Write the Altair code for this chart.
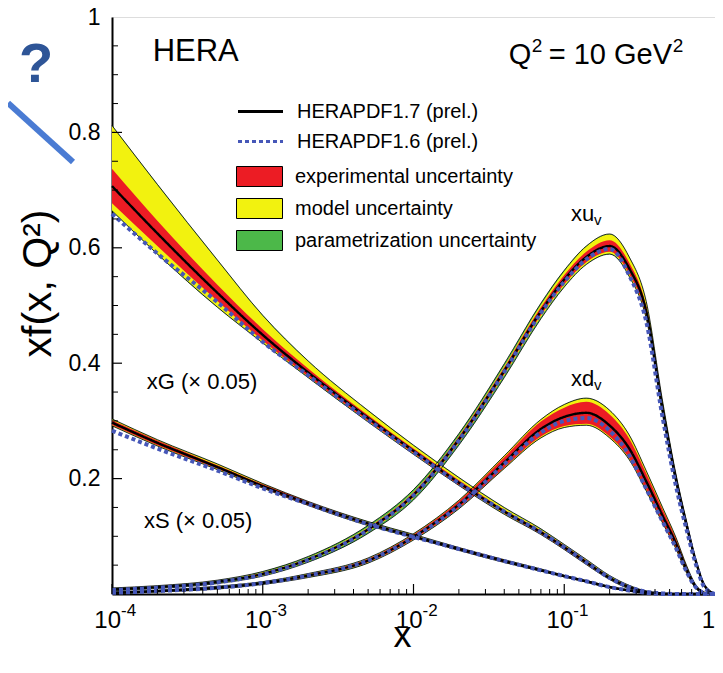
import altair as alt
import pandas as pd

FONT = "Liberation Sans"
RED, YELLOW, GREEN, BLUE = "#ec1c24", "#f2f20f", "#4cb849", "#4657b8"

# ---------------- data ----------------
X = [1e-4, 2e-4, 5e-4, 1e-3, 2e-3, 5e-3, 1e-2, 2e-2, 4e-2, 7e-2, 0.1,
     0.14, 0.2, 0.27, 0.35, 0.45, 0.55, 0.65, 0.75, 0.85, 1.0]

# xG (x 0.05)
G17 = [0.707, 0.625, 0.522, 0.449, 0.384, 0.305, 0.248, 0.193, 0.143, 0.107, 0.081,
       0.055, 0.028, 0.012, 0.004, 0.001, 0, 0, 0, 0, 0]
G16 = [0.659, 0.590, 0.506, 0.437, 0.379, 0.302, 0.246, 0.192, 0.143, 0.107, 0.081,
       0.055, 0.028, 0.012, 0.004, 0.001, 0, 0, 0, 0, 0]
G_EXP = [0.030, 0.022, 0.014, 0.010, 0.007, 0.005, 0.004, 0.004, 0.003, 0.003, 0.003,
         0.003, 0.002, 0.002, 0.001, 0, 0, 0, 0, 0, 0]
G_MUP = [0.104, 0.084, 0.056, 0.033, 0.019, 0.012, 0.009, 0.008, 0.006, 0.005, 0.004,
         0.004, 0.003, 0.002, 0.001, 0, 0, 0, 0, 0, 0]
G_MDN = [0.042, 0.035, 0.024, 0.013, 0.008, 0.006, 0.005, 0.004, 0.004, 0.003, 0.003,
         0.003, 0.002, 0.002, 0.001, 0, 0, 0, 0, 0, 0]
G_PAR = [0.001, 0.001, 0.001, 0.001, 0.001, 0.001, 0.001, 0.001, 0.001, 0.001, 0.001,
         0.001, 0.001, 0.001, 0, 0, 0, 0, 0, 0, 0]

# xS (x 0.05)
S17 = [0.297, 0.262, 0.220, 0.187, 0.157, 0.122, 0.100, 0.078, 0.057, 0.041, 0.031,
       0.022, 0.012, 0.006, 0.002, 0, 0, 0, 0, 0, 0]
S16 = [0.283, 0.252, 0.214, 0.183, 0.156, 0.121, 0.099, 0.078, 0.057, 0.041, 0.031,
       0.022, 0.012, 0.006, 0.002, 0, 0, 0, 0, 0, 0]
S_EXP = [0.004, 0.004, 0.003, 0.003, 0.003, 0.002, 0.002, 0.002, 0.002, 0.001, 0.001,
         0.001, 0.001, 0.001, 0, 0, 0, 0, 0, 0, 0]
S_MUP = [0.006, 0.005, 0.005, 0.004, 0.003, 0.003, 0.003, 0.002, 0.002, 0.002, 0.001,
         0.001, 0.001, 0.001, 0, 0, 0, 0, 0, 0, 0]
S_MDN = [0.005, 0.005, 0.004, 0.003, 0.003, 0.003, 0.002, 0.002, 0.002, 0.001, 0.001,
         0.001, 0.001, 0.001, 0, 0, 0, 0, 0, 0, 0]
S_PAR = [0.0005] * 13 + [0] * 8

# xu_v
U17 = [0.008, 0.012, 0.021, 0.035, 0.060, 0.112, 0.172, 0.268, 0.387, 0.490, 0.545,
       0.584, 0.603, 0.564, 0.490, 0.320, 0.200, 0.118, 0.055, 0.015, 0.0]
U16 = [0.007, 0.011, 0.020, 0.034, 0.059, 0.111, 0.171, 0.266, 0.385, 0.487, 0.541,
       0.580, 0.598, 0.552, 0.472, 0.305, 0.188, 0.110, 0.050, 0.012, 0.0]
U_EXP = [0.001, 0.001, 0.001, 0.002, 0.002, 0.003, 0.004, 0.005, 0.006, 0.007, 0.008,
         0.009, 0.010, 0.010, 0.009, 0.007, 0.005, 0.004, 0.002, 0.001, 0]
U_MUP = [0.002, 0.002, 0.002, 0.003, 0.003, 0.004, 0.005, 0.006, 0.008, 0.011, 0.014,
         0.018, 0.020, 0.019, 0.016, 0.012, 0.008, 0.006, 0.003, 0.002, 0]
U_MDN = [0.002, 0.002, 0.002, 0.003, 0.003, 0.004, 0.005, 0.006, 0.008, 0.010, 0.011,
         0.012, 0.013, 0.013, 0.012, 0.010, 0.007, 0.005, 0.003, 0.001, 0]
U_PAR = [0.0005, 0.0005, 0.001, 0.001, 0.002, 0.003, 0.004, 0.004, 0.004, 0.003, 0.002,
         0.001, 0.001, 0.001, 0.001, 0.001, 0.0005, 0.0005, 0, 0, 0]

# xd_v
D17 = [0.002, 0.005, 0.011, 0.019, 0.032, 0.058, 0.099, 0.155, 0.228, 0.286, 0.307,
       0.314, 0.292, 0.252, 0.195, 0.135, 0.088, 0.042, 0.012, 0.002, 0]
D16 = [0.002, 0.005, 0.011, 0.019, 0.032, 0.058, 0.098, 0.153, 0.225, 0.280, 0.300,
       0.305, 0.283, 0.240, 0.182, 0.125, 0.080, 0.038, 0.011, 0.002, 0]
D_EXP = [0.001, 0.001, 0.001, 0.001, 0.002, 0.003, 0.004, 0.006, 0.009, 0.013, 0.016,
         0.019, 0.019, 0.017, 0.014, 0.011, 0.008, 0.005, 0.003, 0.001, 0]
D_MUP = [0.001, 0.001, 0.002, 0.002, 0.003, 0.004, 0.005, 0.007, 0.011, 0.016, 0.021,
         0.025, 0.026, 0.023, 0.018, 0.014, 0.010, 0.006, 0.003, 0.001, 0]
D_MDN = [0.001, 0.001, 0.002, 0.002, 0.003, 0.004, 0.005, 0.007, 0.010, 0.015, 0.018,
         0.021, 0.021, 0.019, 0.016, 0.012, 0.009, 0.006, 0.003, 0.001, 0]
D_PAR = [0.0005] * 18 + [0] * 3

SETS = ["HERAPDF1.7 (prel.)", "HERAPDF1.6 (prel.)"]
BANDS = ["experimental uncertainty", "model uncertainty", "parametrization uncertainty"]

X_MAJOR = [1e-4, 1e-3, 1e-2, 1e-1]
X_EXP = ["-4", "-3", "-2", "-1"]
X_MINOR = [k * 10.0 ** e for e in (-4, -3, -2, -1) for k in range(2, 10)]
Y_MAJOR = [0.2, 0.4, 0.6, 0.8]
Y_MINOR = [0.05, 0.1, 0.15, 0.25, 0.3, 0.35, 0.45, 0.5, 0.55, 0.65, 0.7, 0.75,
           0.85, 0.9, 0.95]

LABELS = ["HERA", "xG (× 0.05)", "xS (× 0.05)"]
LABEL_X = [1.86e-4, 1.70e-4, 1.63e-4]
LABEL_Y = [0.924, 0.355, 0.114]
LABEL_SIZE = [31, 22, 22]
# "Q² = 10 GeV²" built from pieces so the superscripts can be raised
Q_PARTS = ["Q", "2", "= 10 GeV", "2"]
Q_X = 0.0428
Q_Y = 0.918
SUB_MAIN = ["xu", "xd"]
SUB_X = [0.111, 0.111]
SUB_Y = [0.647, 0.360]

# ---------------- table ----------------
curves = {
    "xG": (G17, G16, G_EXP, G_MUP, G_MDN, G_PAR),
    "xS": (S17, S16, S_EXP, S_MUP, S_MDN, S_PAR),
    "xuv": (U17, U16, U_EXP, U_MUP, U_MDN, U_PAR),
    "xdv": (D17, D16, D_EXP, D_MUP, D_MDN, D_PAR),
}
rows = []
for name, (c17, c16, e, mu, md, p) in curves.items():
    for i, xv in enumerate(X):
        up = max(mu[i], e[i])
        dn = max(md[i], e[i])
        rows.append(dict(
            curve=name, x=xv, c17=c17[i], c16=c16[i],
            e_lo=max(c17[i] - e[i], 0), e_hi=c17[i] + e[i],
            m_lo=max(c17[i] - dn, 0), m_hi=c17[i] + up,
            p_lo=max(c17[i] - dn - p[i], 0), p_hi=c17[i] + up + p[i]))
df = pd.DataFrame(rows)

W, H = 603, 577

XSCALE = alt.Scale(type="log", domain=[1e-4, 1])
YSCALE = alt.Scale(domain=[0, 1], nice=False)
XAXIS = alt.Axis(labels=False, ticks=False, grid=False, domainWidth=2, domainColor="black",
                 title="x", titleFontSize=36, titleFont=FONT, titleFontWeight="normal",
                 titleColor="black", titleX=290, titleY=52, titleBaseline="alphabetic")
YAXIS = alt.Axis(values=[0.2, 0.4, 0.6, 0.8, 1.0], ticks=False, grid=False,
                 labelExpr="datum.value == 1 ? '1' : format(datum.value, '.1f')",
                 labelFontSize=23, labelFont=FONT, labelColor="black", labelPadding=12,
                 domainWidth=2, domainColor="black",
                 title="xf(x, Q²)", titleFontSize=41, titleFont=FONT,
                 titleFontWeight="normal", titleColor="black",
                 titleX=-62, titleY=266, titleBaseline="alphabetic", titleAlign="center")


def xenc(field):
    return alt.X(f"{field}:Q", scale=XSCALE, axis=XAXIS)


def yenc(field):
    return alt.Y(f"{field}:Q", scale=YSCALE, axis=YAXIS)


fill_legend = alt.Legend(orient="none", legendX=137, legendY=149, title=None,
                         labelFontSize=20, labelFont=FONT, labelColor="black",
                         labelLimit=400,
                         symbolType="M-2.3,-1H2.3V1H-2.3Z", symbolSize=400,
                         symbolStrokeColor="black", symbolStrokeWidth=1,
                         symbolOpacity=1, labelOffset=25, rowPadding=7, padding=0)
FILL = alt.Scale(domain=BANDS, range=[RED, YELLOW, GREEN])

base = alt.Chart(df)


def band_layer(lo, hi, label):
    return base.transform_calculate(band=f"'{label}'").mark_area(
        interpolate="monotone", opacity=1).encode(
        x=xenc("x"), y=yenc(lo), y2=f"{hi}:Q",
        fill=alt.Fill("band:N", scale=FILL, legend=fill_legend),
        detail="curve:N")


green = band_layer("p_lo", "p_hi", BANDS[2])
yellow = band_layer("m_lo", "m_hi", BANDS[1])
red = band_layer("e_lo", "e_hi", BANDS[0])

edge_lo = base.mark_line(interpolate="monotone", color="black", strokeWidth=0.8).encode(
    x=xenc("x"), y=yenc("p_lo"), detail="curve:N")
edge_hi = base.mark_line(interpolate="monotone", color="black", strokeWidth=0.8).encode(
    x=xenc("x"), y=yenc("p_hi"), detail="curve:N")

line_legend = alt.Legend(orient="none", legendX=137, legendY=83, title=None,
                         labelFontSize=20, labelFont=FONT, labelColor="black",
                         labelLimit=400,
                         symbolType="M-2.25,0H2.25", symbolSize=400, symbolStrokeWidth=3,
                         labelOffset=25, rowPadding=8, padding=0)
STROKE = alt.Scale(domain=SETS, range=["black", BLUE])
DASH = alt.Scale(domain=SETS, range=[[1, 0], [4, 3]])

line17 = base.transform_calculate(set=f"'{SETS[0]}'").mark_line(
    interpolate="monotone", strokeWidth=2.4).encode(
    x=xenc("x"), y=yenc("c17"),
    stroke=alt.Stroke("set:N", scale=STROKE, legend=line_legend),
    strokeDash=alt.StrokeDash("set:N", scale=DASH, legend=line_legend),
    detail="curve:N")
line16 = base.transform_calculate(set=f"'{SETS[1]}'").mark_line(
    interpolate="monotone", strokeWidth=4).encode(
    x=xenc("x"), y=yenc("c16"),
    stroke=alt.Stroke("set:N", scale=STROKE, legend=line_legend),
    strokeDash=alt.StrokeDash("set:N", scale=DASH, legend=line_legend),
    detail="curve:N")

# inward ticks
xmaj = alt.Chart(pd.DataFrame({"t": X_MAJOR})).mark_rule(color="black", strokeWidth=1.2).encode(
    x=xenc("t"), y=alt.value(H), y2=alt.value(H - 10))
xmin = alt.Chart(pd.DataFrame({"t": X_MINOR})).mark_rule(color="black", strokeWidth=1).encode(
    x=xenc("t"), y=alt.value(H), y2=alt.value(H - 5))
ymaj = alt.Chart(pd.DataFrame({"t": Y_MAJOR})).mark_rule(color="black", strokeWidth=1.2).encode(
    y=yenc("t"), x=alt.value(0), x2=alt.value(10))
ymin = alt.Chart(pd.DataFrame({"t": Y_MINOR})).mark_rule(color="black", strokeWidth=1).encode(
    y=yenc("t"), x=alt.value(0), x2=alt.value(6))

# x tick labels 10^n
xt = pd.DataFrame({"t": X_MAJOR, "e": X_EXP})
xlab10 = alt.Chart(xt).mark_text(text="10", fontSize=24, font=FONT, color="black",
                                 align="right", baseline="alphabetic", dx=9).encode(
    x=xenc("t"), y=alt.value(H + 34))
xlabexp = alt.Chart(xt).mark_text(fontSize=17, font=FONT, color="black",
                                  align="left", baseline="alphabetic", dx=9).encode(
    x=xenc("t"), y=alt.value(H + 22), text="e:N")
xlab1 = alt.Chart(pd.DataFrame({"t": [1.0]})).mark_text(
    text="1", fontSize=24, font=FONT, color="black", align="right",
    baseline="alphabetic").encode(x=xenc("t"), y=alt.value(H + 34))

# annotations
ann = pd.DataFrame({"lab": LABELS, "ax": LABEL_X, "ay": LABEL_Y, "s": LABEL_SIZE})
ann_layer = alt.Chart(ann).mark_text(font=FONT, color="black", align="left",
                                     baseline="alphabetic").encode(
    x=xenc("ax"), y=yenc("ay"), text="lab:N",
    size=alt.Size("s:Q", scale=None, legend=None))

qdf = pd.DataFrame({"lab": Q_PARTS, "ax": [Q_X] * 4, "ay": [Q_Y] * 4,
                    "s": [29, 19, 29, 19], "dx": [0, 23, 40, 164], "dy": [0, -12, 0, -12]})
q_layers = []
for i in range(4):
    q_layers.append(alt.Chart(qdf.iloc[[i]]).mark_text(
        font=FONT, color="black", align="left", baseline="alphabetic",
        fontSize=int(qdf.s[i]), dx=int(qdf.dx[i]), dy=int(qdf.dy[i])).encode(
        x=xenc("ax"), y=yenc("ay"), text="lab:N"))

sub = pd.DataFrame({"lab": SUB_MAIN, "ax": SUB_X, "ay": SUB_Y})
sub_main = alt.Chart(sub).mark_text(font=FONT, fontSize=22, color="black", align="left",
                                    baseline="alphabetic").encode(
    x=xenc("ax"), y=yenc("ay"), text="lab:N")
sub_v = alt.Chart(sub).mark_text(text="v", font=FONT, fontSize=15, color="black",
                                 align="left", baseline="alphabetic", dx=23, dy=4).encode(
    x=xenc("ax"), y=yenc("ay"))

# decoration outside the frame (top-left)
dummy = pd.DataFrame({"a": [0]})
qmark = alt.Chart(dummy).mark_text(text="?", font=FONT, fontSize=56, fontWeight="bold",
                                   color="#2e5597", align="center",
                                   baseline="alphabetic").encode(
    x=alt.value(-76), y=alt.value(65))
slash = alt.Chart(dummy).mark_rule(color="#4a7bd3", strokeWidth=6).encode(
    x=alt.value(-104), y=alt.value(86), x2=alt.value(-39), y2=alt.value(145))

chart = alt.layer(
    green, yellow, red, edge_lo, edge_hi, line17, line16,
    xmaj, xmin, ymaj, ymin, xlab10, xlabexp, xlab1,
    ann_layer, *q_layers, sub_main, sub_v, qmark, slash
).properties(
    width=W, height=H,
    autosize=alt.AutoSizeParams(type="none"),
    padding={"left": 104, "top": 9, "right": 0, "bottom": 60},
).configure_view(stroke="black", strokeWidth=1.5).configure(background="white")

chart.save("out.html", embed_options={"renderer": "svg", "actions": False})
